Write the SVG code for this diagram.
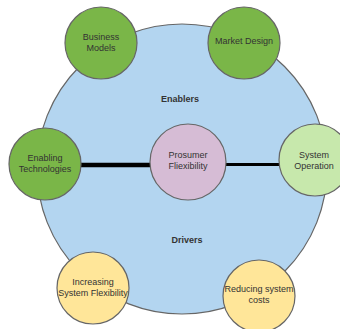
<svg xmlns="http://www.w3.org/2000/svg" width="340" height="329" viewBox="0 0 340 329">
<style>
.c{stroke:#666;stroke-width:1.2}
.t{font-family:"Liberation Sans",Arial,sans-serif;font-size:9px;fill:#333;text-anchor:middle}
.b{font-weight:bold;font-size:9px}
</style>
<rect width="340" height="329" fill="#fff"/>
<g id="big">
<circle class="c" cx="182" cy="169" r="145" fill="#b3d5f0"/>
<text class="t b" x="180" y="102">Enablers</text>
<text class="t b" x="187" y="243">Drivers</text>
</g>
<g id="connectors">
<line x1="80" y1="165" x2="150" y2="165" stroke="#000" stroke-width="4.5"/>
<line x1="226" y1="164.5" x2="279" y2="164.5" stroke="#000" stroke-width="3"/>
</g>
<g id="business-models">
<circle class="c" cx="101" cy="43" r="36" fill="#7ab648"/>
<text class="t" x="101" y="40">Business</text>
<text class="t" x="101" y="50.5">Models</text>
</g>
<g id="market-design">
<circle class="c" cx="244" cy="43" r="36" fill="#7ab648"/>
<text class="t" x="244" y="44">Market Design</text>
</g>
<g id="enabling-technologies">
<circle class="c" cx="45" cy="164" r="36" fill="#7ab648"/>
<text class="t" x="45" y="161">Enabling</text>
<text class="t" x="45" y="171.5">Technologies</text>
</g>
<g id="prosumer-flexibility">
<circle class="c" cx="188" cy="162" r="38" fill="#d6bcd5"/>
<text class="t" x="188" y="158">Prosumer</text>
<text class="t" x="188" y="168.5">Fliexibility</text>
</g>
<g id="system-operation">
<circle class="c" cx="315" cy="160" r="36" fill="#c7e8ac"/>
<text class="t" x="314" y="158">System</text>
<text class="t" x="314" y="168.5">Operation</text>
</g>
<g id="increasing-system-flexibility">
<circle class="c" cx="93" cy="288" r="36" fill="#ffe699"/>
<text class="t" x="93" y="285">Increasing</text>
<text class="t" x="93" y="295.5">System Flexibility</text>
</g>
<g id="reducing-system-costs">
<circle class="c" cx="259" cy="296" r="36" fill="#ffe699"/>
<text class="t" x="259" y="292">Reducing system</text>
<text class="t" x="259" y="302.5">costs</text>
</g>
</svg>
